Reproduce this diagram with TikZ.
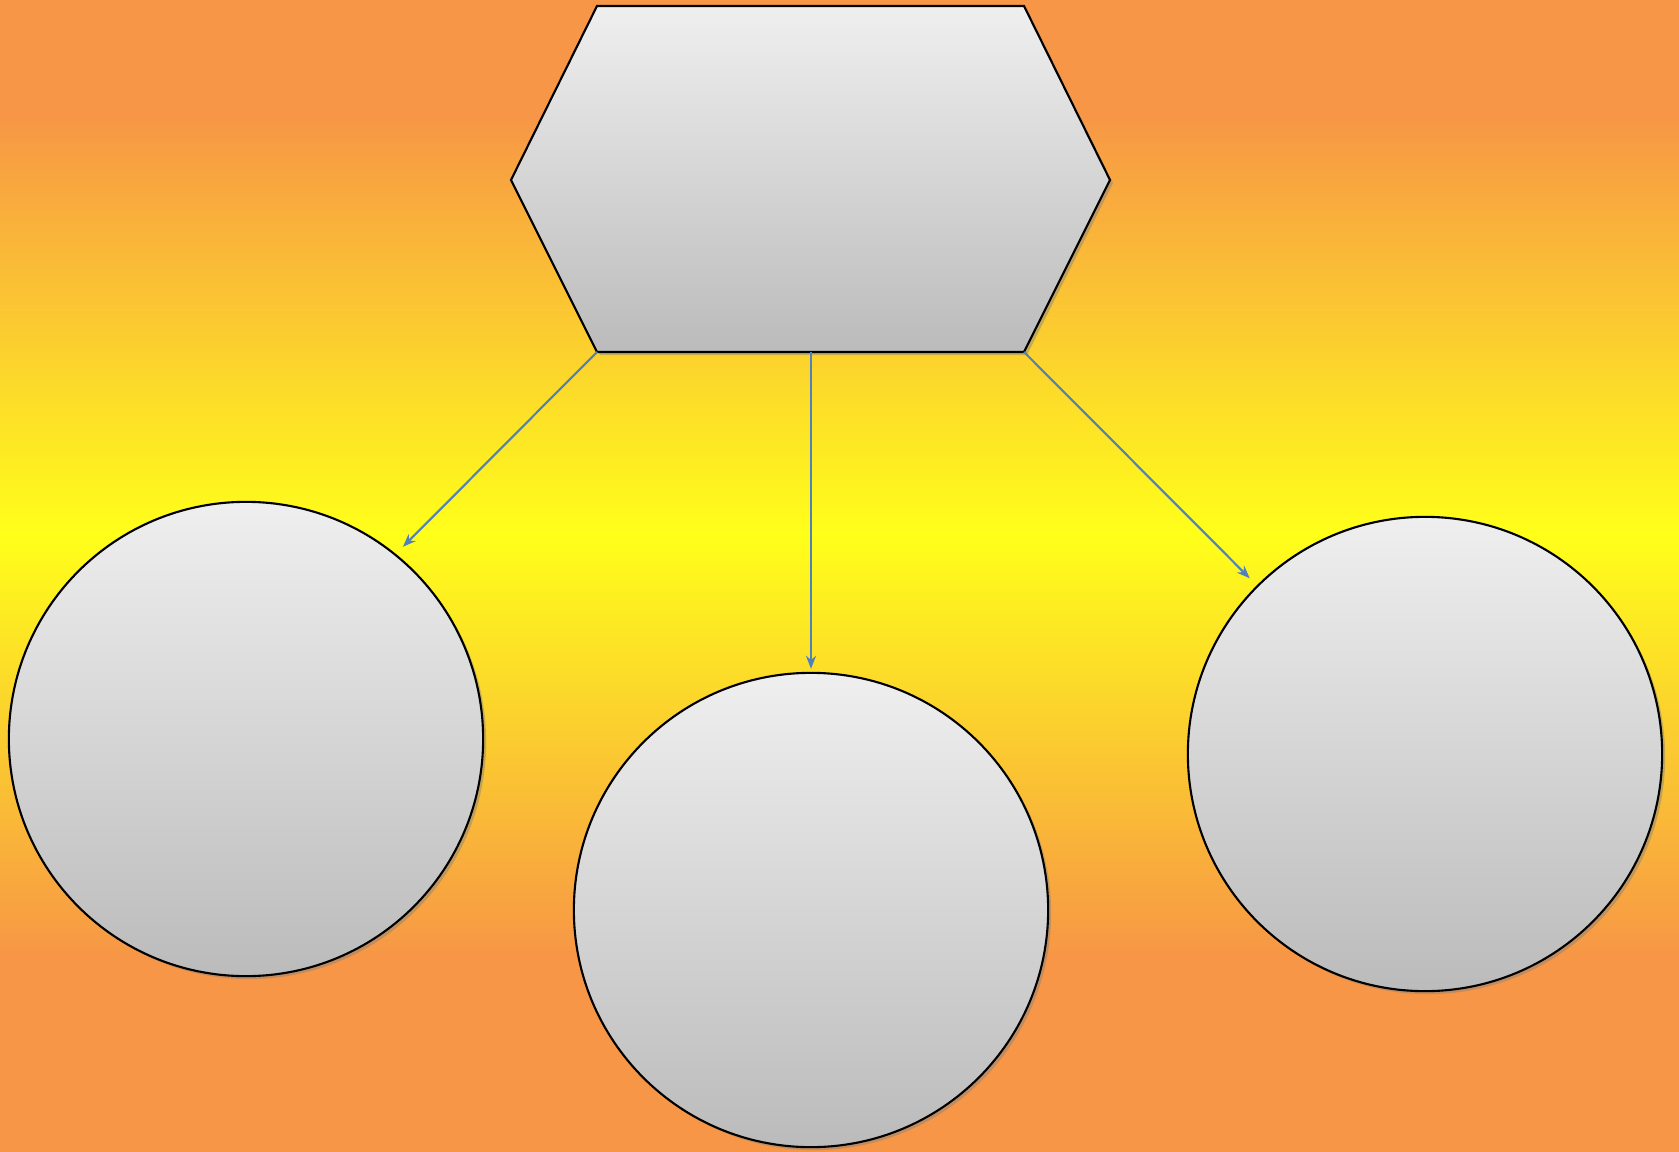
\documentclass[tikz,border=0pt]{standalone}
\usepackage{tikz}
\usetikzlibrary{arrows.meta,shadows}

\definecolor{bgorange}{HTML}{F79646}
\definecolor{bgyellow}{HTML}{FFFF1A}
\definecolor{shapetop}{HTML}{EFEFEF}
\definecolor{shapebot}{HTML}{BBBBBB}
\definecolor{linkblue}{HTML}{4F81BD}

% orange - yellow - orange band (inner 25..75bp is the box)
\pgfdeclareverticalshading{bgband}{100bp}{color(0bp)=(bgorange); color(33.5bp)=(bgorange);
  color(51.8bp)=(bgyellow); color(70bp)=(bgorange); color(100bp)=(bgorange)}

\tikzset{
  panel/.style={draw=black, line width=0.6pt, top color=shapetop, bottom color=shapebot,
    drop shadow={shadow xshift=0.03cm, shadow yshift=-0.03cm, opacity=0.45}},
  ball/.style={panel, circle, minimum size=4.74cm, inner sep=0pt},
  link/.style={draw=linkblue, line width=0.6pt, shorten >=0.1cm,
    -{Stealth[length=0.13cm, width=0.1cm]}}
}

\begin{document}
\begin{tikzpicture}[x=0.01cm, y=-0.01cm]
    % Background
    \shade[shading=bgband] (0,0) rectangle (1679,1152);
    \useasboundingbox (0,0) rectangle (1679,1152);
    % Hexagon corners
    \coordinate (hexl) at (511,180);
    \coordinate (hextl) at (597,6);
    \coordinate (hextr) at (1024,6);
    \coordinate (hexr) at (1110,180);
    \coordinate (hexbr) at (1024,352);
    \coordinate (hexbl) at (597,352);
    \coordinate (hexbc) at (811,352);
    \draw[panel] (hexl) -- (hextl) -- (hextr) -- (hexr) -- (hexbr) -- (hexbl) -- cycle;
    % Circles
    \node[ball] (left) at (246,739) {};
    \node[ball] (mid) at (811,910) {};
    \node[ball] (right) at (1425,754) {};
    % Arrows
    \draw[link] (hexbl) -- (left.51);
    \draw[link, shorten >=0.03cm] (hexbc) -- (mid);
    \draw[link] (hexbr) -- (right);
\end{tikzpicture}
\end{document}
